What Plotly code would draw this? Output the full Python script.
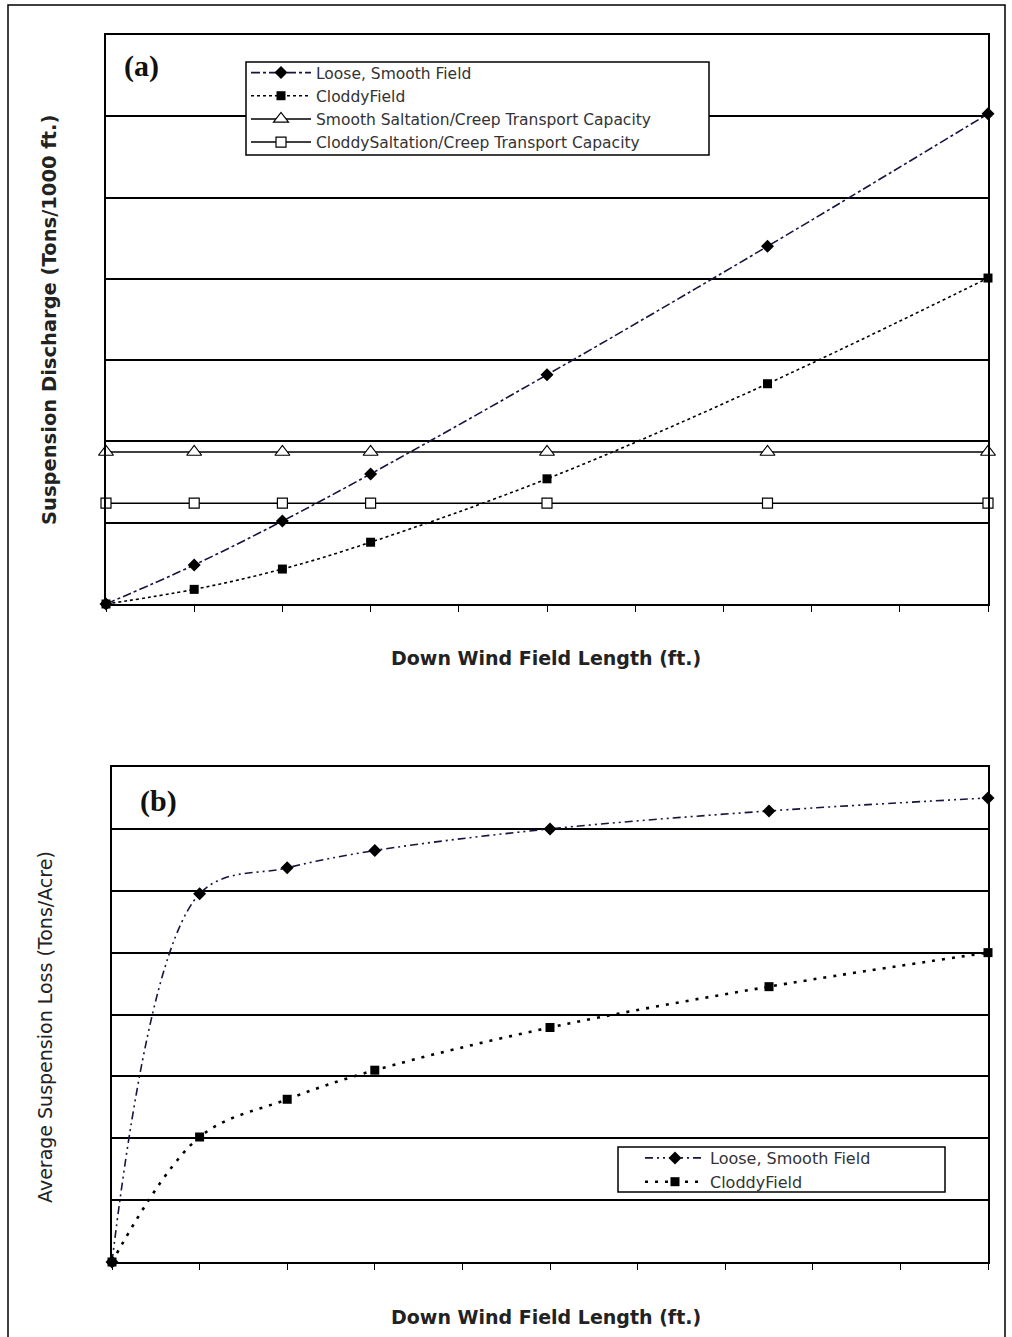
import plotly.graph_objects as go

# ---- data ----
x_a = [0, 1, 2, 3, 5, 7.5, 10]
loose_a = [0, 0.48, 1.02, 1.60, 2.82, 4.40, 6.03]
cloddy_a = [0, 0.18, 0.43, 0.76, 1.54, 2.71, 4.01]
smooth_cap = [1.87, 1.87, 1.87, 1.87, 1.87, 1.87, 1.87]
cloddy_cap = [1.24, 1.24, 1.24, 1.24, 1.24, 1.24, 1.24]

x_b = [0, 1, 2, 3, 5, 7.5, 10]
loose_b = [0, 5.95, 6.37, 6.65, 7.00, 7.29, 7.50]
cloddy_b = [0, 2.02, 2.63, 3.10, 3.79, 4.45, 5.00]

names_a = ["Loose, Smooth Field", "CloddyField",
           "Smooth Saltation/Creep Transport Capacity",
           "CloddySaltation/Creep Transport Capacity"]
names_b = ["Loose, Smooth Field", "CloddyField"]

W, H = 1012, 1337
def px(x): return x / W
def py(y): return 1 - y / H

NAVY = "#15153f"
SANS = "DejaVu Sans, Arial, sans-serif"
fig = go.Figure()

# panel a
fig.add_trace(go.Scatter(x=x_a, y=loose_a, name=names_a[0], mode="lines+markers",
                         line=dict(color=NAVY, width=1.6, dash="dashdot", shape="spline"),
                         marker=dict(symbol="diamond", size=10, color="black"),
                         xaxis="x", yaxis="y", legend="legend", cliponaxis=False))
fig.add_trace(go.Scatter(x=x_a, y=cloddy_a, name=names_a[1], mode="lines+markers",
                         line=dict(color="black", width=1.6, dash="dot", shape="spline"),
                         marker=dict(symbol="square", size=9, color="black"),
                         xaxis="x", yaxis="y", legend="legend", cliponaxis=False))
fig.add_trace(go.Scatter(x=x_a, y=smooth_cap, name=names_a[2], mode="lines+markers",
                         line=dict(color="black", width=1.5),
                         marker=dict(symbol="triangle-up", size=13, color="white",
                                     line=dict(color="black", width=1.2)),
                         xaxis="x", yaxis="y", legend="legend", cliponaxis=False))
fig.add_trace(go.Scatter(x=x_a, y=cloddy_cap, name=names_a[3], mode="lines+markers",
                         line=dict(color="black", width=1.5),
                         marker=dict(symbol="square", size=10, color="white",
                                     line=dict(color="black", width=1.2)),
                         xaxis="x", yaxis="y", legend="legend", cliponaxis=False))

# panel b
fig.add_trace(go.Scatter(x=x_b, y=loose_b, name=names_b[0], mode="lines+markers",
                         line=dict(color=NAVY, width=1.6, dash="8px,4px,2px,4px,2px,4px", shape="spline"),
                         marker=dict(symbol="diamond", size=10, color="black"),
                         xaxis="x2", yaxis="y2", legend="legend2", cliponaxis=False))
fig.add_trace(go.Scatter(x=x_b, y=cloddy_b, name=names_b[1], mode="lines+markers",
                         line=dict(color="black", width=2.6, dash="3px,7px", shape="spline"),
                         marker=dict(symbol="square", size=9, color="black"),
                         xaxis="x2", yaxis="y2", legend="legend2", cliponaxis=False))

axis_common = dict(showline=True, linecolor="black", linewidth=1.5, mirror=True,
                   showticklabels=False, zeroline=False)
fig.update_layout(
    width=W, height=H,
    margin=dict(l=0, r=0, t=0, b=0),
    paper_bgcolor="white", plot_bgcolor="white",
    font=dict(family=SANS, color="#222"),
    xaxis=dict(domain=[px(106), px(988)], range=[0, 10], dtick=1, ticks="outside",
               ticklen=6, tickcolor="black", showgrid=False, anchor="y", **axis_common),
    yaxis=dict(domain=[py(604), py(35)], range=[0, 7], dtick=1, ticks="",
               showgrid=True, gridcolor="black", gridwidth=1.5, anchor="x", **axis_common),
    xaxis2=dict(domain=[px(112), px(988)], range=[0, 10], dtick=1, ticks="outside",
                ticklen=6, tickcolor="black", showgrid=False, anchor="y2", **axis_common),
    yaxis2=dict(domain=[py(1262), py(767)], range=[0, 8], dtick=1, ticks="",
                showgrid=True, gridcolor="black", gridwidth=1.5, anchor="x2", **axis_common),
    legend=dict(x=px(246), y=py(56), xanchor="left", yanchor="top",
                bgcolor="rgba(0,0,0,0)", borderwidth=0,
                font=dict(family=SANS, size=15.5, color="#333"), tracegroupgap=0, itemwidth=60),
    legend2=dict(x=px(640), y=py(1141), xanchor="left", yanchor="top",
                 bgcolor="rgba(0,0,0,0)", borderwidth=0,
                 font=dict(family=SANS, size=16, color="#333"), tracegroupgap=0, itemwidth=60),
    showlegend=True,
)

annots = [
    dict(text="<b>(a)</b>", x=px(141), y=py(66), font=dict(family="Times New Roman, Liberation Serif, serif", size=30, color="#111")),
    dict(text="<b>(b)</b>", x=px(158), y=py(801), font=dict(family="Times New Roman, Liberation Serif, serif", size=30, color="#111")),
    dict(text="<b>Suspension Discharge (Tons/1000 ft.)</b>", x=px(50), y=py(320), textangle=-90, font=dict(family=SANS, size=19.5, color="#222")),
    dict(text="Average Suspension Loss (Tons/Acre)", x=px(45), y=py(1027), textangle=-90, font=dict(family=SANS, size=19, color="#222")),
    dict(text="<b>Down Wind Field Length (ft.)</b>", x=px(546), y=py(658), font=dict(family=SANS, size=19, color="#222")),
    dict(text="<b>Down Wind Field Length (ft.)</b>", x=px(546), y=py(1317), font=dict(family=SANS, size=19, color="#222")),
]
for a in annots:
    fig.add_annotation(xref="paper", yref="paper", showarrow=False,
                       xanchor="center", yanchor="middle", **a)

# outer frame
fig.add_shape(type="rect", xref="paper", yref="paper",
              x0=px(8), x1=px(1005), y0=py(1350), y1=py(5),
              line=dict(color="black", width=1.5), layer="below")
# legend boxes
fig.add_shape(type="rect", xref="paper", yref="paper",
              x0=px(246), x1=px(709), y0=py(155), y1=py(62),
              line=dict(color="black", width=1.5), fillcolor="white", layer="above")
fig.add_shape(type="rect", xref="paper", yref="paper",
              x0=px(618), x1=px(945), y0=py(1192), y1=py(1147),
              line=dict(color="black", width=1.5), fillcolor="white", layer="above")

fig.write_html("out.html", config={"displayModeBar": False},
               post_script="document.body.style.margin='0';document.body.style.overflow='hidden';")
